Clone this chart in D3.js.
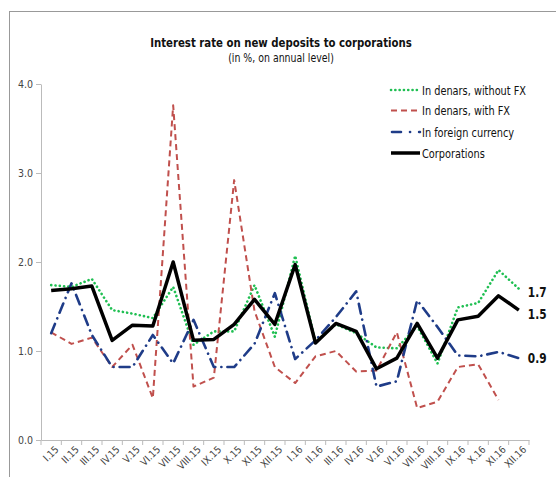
<!DOCTYPE html>
<html>
<head>
<meta charset="utf-8">
<script src="https://cdn.jsdelivr.net/npm/d3@7"></script>
<style>
body { margin: 0; background: #fff; }
text { font-family: "DejaVu Sans Condensed", sans-serif; }
</style>
</head>
<body>
<div id="content"></div>
<script>
const width = 556;
const height = 477;

// categories (months)
const months = ["I.15","II.15","III.15","IV.15","V.15","VI.15","VII.15","VIII.15","IX.15","X.15","XI.15","XII.15",
                "I.16","II.16","III.16","IV.16","V.16","VI.16","VII.16","VIII.16","IX.16","X.16","XI.16","XII.16"];

// series values
const withoutFX = [1.74,1.72,1.81,1.46,1.42,1.37,1.72,1.07,1.22,1.22,1.74,1.16,2.07,1.10,1.30,1.20,1.04,1.03,1.28,0.86,1.49,1.54,1.91,1.70];
const withFX    = [1.21,1.08,1.15,0.82,1.07,0.47,3.76,0.60,0.70,2.92,1.45,0.82,0.64,0.94,1.00,0.77,0.78,1.21,0.36,0.43,0.82,0.85,0.45,null];
const foreign   = [1.20,1.76,1.18,0.82,0.82,1.18,0.86,1.35,0.82,0.82,1.08,1.65,0.91,1.12,1.38,1.67,0.60,0.66,1.57,1.27,0.95,0.94,0.99,0.92];
const corps     = [1.68,1.70,1.73,1.12,1.29,1.28,2.00,1.12,1.13,1.30,1.58,1.30,1.97,1.09,1.31,1.22,0.80,0.92,1.31,0.92,1.35,1.39,1.62,1.46];

const yTicks = [0, 1, 2, 3, 4];
const endLabels = [{v: 1.7, s: "withoutFX"}, {v: 1.5, s: "corps"}, {v: 0.9, s: "foreign"}];

const series = [
    {key: "withoutFX", name: "In denars, without FX", values: withoutFX, color: "#1fbf52", width: 2.6, dash: "0.1 4.2", cap: "round"},
    {key: "withFX", name: "In denars, with FX", values: withFX, color: "#c0504d", width: 2, dash: "6 4", cap: "butt"},
    {key: "foreign", name: "In foreign currency", values: foreign, color: "#1f3c88", width: 2.6, dash: "10 6 0.1 6", cap: "round"},
    {key: "corps", name: "Corporations", values: corps, color: "#000000", width: 3.5, dash: null, cap: "butt"}
];

const margin = {top: 84, right: 27, bottom: 37, left: 41};
const narrow = 0.87; // horizontal squeeze to mimic the narrow font

const svg = d3.select("#content").append("svg")
    .attr("width", width)
    .attr("height", height);

// frame
svg.append("rect")
    .attr("x", 9.5).attr("y", 11.5)
    .attr("width", 600).attr("height", 600)
    .attr("fill", "none")
    .attr("stroke", "#999")
    .attr("stroke-width", 1);

const x = d3.scaleBand().domain(months).range([margin.left, width - margin.right]);
const y = d3.scaleLinear().domain([0, 4]).range([height - margin.bottom, margin.top]);
const cx = d => x(d) + x.bandwidth() / 2;

// title
svg.append("text").text("Interest rate on new deposits to corporations")
    .attr("transform", `translate(281,47) scale(${narrow},1)`)
    .attr("text-anchor", "middle")
    .attr("font-size", 13).attr("font-weight", "bold")
    .attr("fill", "#111");
svg.append("text").text("(in %, on annual level)")
    .attr("transform", `translate(281,62) scale(${narrow},1)`)
    .attr("text-anchor", "middle")
    .attr("font-size", 12)
    .attr("fill", "#111");

// y axis
const yAxis = svg.append("g")
    .attr("transform", `translate(${margin.left},0)`)
    .call(d3.axisLeft(y).tickValues(yTicks).tickFormat(d3.format(".1f")).tickSize(5).tickSizeOuter(0));
yAxis.select(".domain").attr("stroke", "#bbb");
yAxis.selectAll(".tick line").attr("stroke", "#bbb");
yAxis.selectAll(".tick text").attr("font-size", 10.5).attr("fill", "#444").attr("x", -8)
    .attr("font-family", "\"DejaVu Sans Condensed\", sans-serif");

// x axis
const xAxis = svg.append("g")
    .attr("transform", `translate(0,${y(0)})`)
    .call(d3.axisBottom(x).tickSize(0).tickSizeOuter(0));
xAxis.select(".domain").attr("stroke", "#bbb");
xAxis.selectAll(".tick text")
    .attr("font-size", 10).attr("fill", "#444")
    .attr("font-family", "\"DejaVu Sans Condensed\", sans-serif")
    .attr("text-anchor", "end")
    .attr("dy", null)
    .attr("transform", "translate(6,8) rotate(-45)");

// tick marks on category boundaries
const bounds = months.map(m => x(m)).concat([x.range()[1]]);
svg.append("g").selectAll("line").data(bounds).join("line")
    .attr("x1", d => d).attr("x2", d => d)
    .attr("y1", y(0)).attr("y2", y(0) + 5)
    .attr("stroke", "#bbb");

// lines
const line = d3.line()
    .defined(d => d.v != null)
    .x(d => cx(d.m))
    .y(d => y(d.v));

series.forEach(s => {
    const pts = months.map((m, i) => ({m: m, v: s.values[i]}));
    svg.append("path")
        .datum(pts)
        .attr("d", line)
        .attr("fill", "none")
        .attr("stroke", s.color)
        .attr("stroke-width", s.width)
        .attr("stroke-dasharray", s.dash)
        .attr("stroke-linecap", s.cap)
        .attr("stroke-linejoin", "round");
});

// end labels
const lastX = cx(months[months.length - 1]);
const endY = {withoutFX: withoutFX[23], corps: corps[23], foreign: foreign[23]};
svg.append("g").selectAll("text").data(endLabels).join("text")
    .text(d => d.v.toFixed(1))
    .attr("transform", d => `translate(${lastX + 9},${y(endY[d.s]) + (d.s === "withoutFX" ? 8 : d.s === "corps" ? 9 : 5)}) scale(${narrow},1)`)
    .attr("font-size", 13.5).attr("font-weight", "bold")
    .attr("fill", "#111");

// legend
const legend = svg.append("g").attr("transform", "translate(390,90)");
series.forEach((s, i) => {
    const g = legend.append("g").attr("transform", `translate(0,${[0, 20.5, 42, 63][i]})`);
    g.append("line")
        .attr("x1", s.key === "foreign" ? 2 : 1).attr("x2", 30)
        .attr("y1", 0).attr("y2", 0)
        .attr("stroke", s.color)
        .attr("stroke-width", s.width)
        .attr("stroke-dasharray", s.key === "foreign" ? "9 9 0.1 9" : s.dash)
        .attr("stroke-linecap", s.cap);
    g.append("text").text(s.name)
        .attr("transform", `translate(32,4.5) scale(${narrow},1)`)
        .attr("font-size", 12.5)
        .attr("fill", "#111");
});
</script>
</body>
</html>
